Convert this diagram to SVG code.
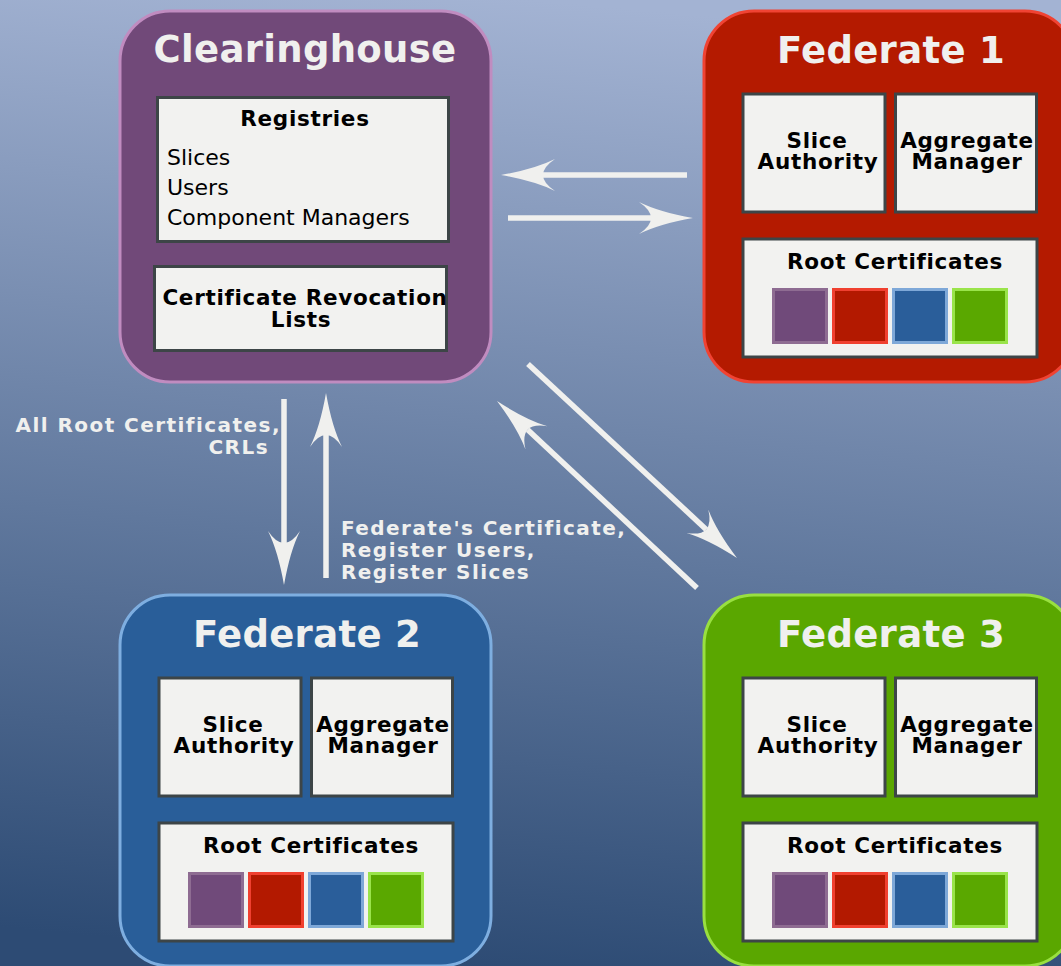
<svg xmlns="http://www.w3.org/2000/svg" width="1061" height="966" viewBox="0 0 1061 966">
  <defs>
    <linearGradient id="bg" x1="0.5" y1="0" x2="0.4" y2="1">
      <stop offset="0" stop-color="#a3b3d3"/>
      <stop offset="1" stop-color="#2d4b74"/>
    </linearGradient>
    <marker id="ah" markerUnits="userSpaceOnUse" markerWidth="56" markerHeight="34" refX="12" refY="16" orient="auto" overflow="visible">
      <path d="M0,0 Q20,10 54,16 Q20,22 0,32 Q12,24 12,16 Q12,8 0,0 Z" fill="#f0f0ee"/>
    </marker>
    <style>
      .title { font-family: "DejaVu Sans", sans-serif; font-weight: bold; font-size: 37px; fill: #f0f0ee; text-anchor: middle; letter-spacing: 0.3px; }
      .inner { fill: #f2f2f0; stroke: #3d4547; stroke-width: 3; }
      .bt { font-family: "DejaVu Sans", sans-serif; font-weight: bold; font-size: 21.5px; fill: #000; text-anchor: middle; letter-spacing: 0.7px; }
      .rt { font-family: "DejaVu Sans", sans-serif; font-size: 22px; fill: #000; }
      .lbl { font-family: "DejaVu Sans", sans-serif; font-weight: bold; font-size: 20px; fill: #f0f0ee; letter-spacing: 1.45px; }
      .conn { stroke: #f0f0ee; stroke-width: 5.5; fill: none; marker-end: url(#ah); }
      .sqP { fill: #704a7a; stroke: #8e6c92; stroke-width: 3; }
      .sqR { fill: #b31900; stroke: #f0402f; stroke-width: 3; }
      .sqB { fill: #2a5e9a; stroke: #7ea8d8; stroke-width: 3; }
      .sqG { fill: #5aa800; stroke: #9ae44a; stroke-width: 3; }
    </style>
  </defs>

  <rect x="0" y="0" width="1061" height="966" fill="url(#bg)"/>

  <g id="clearinghouse">
    <rect x="120" y="11" width="371" height="371" rx="50" fill="#714979" stroke="#c08cc0" stroke-width="3"/>
    <text class="title" x="305" y="62">Clearinghouse</text>
    <rect class="inner" x="157.5" y="97.5" width="291" height="144"/>
    <text class="bt" x="305" y="126">Registries</text>
    <text class="rt" x="167" y="165">Slices</text>
    <text class="rt" x="167" y="195">Users</text>
    <text class="rt" x="167" y="225">Component Managers</text>
    <rect class="inner" x="154.5" y="266.5" width="292" height="84"/>
    <text class="bt" x="305" y="305">Certificate Revocation</text>
    <text class="bt" x="301" y="327">Lists</text>
  </g>

  <g id="federate1">
    <rect x="704" y="11" width="371" height="371" rx="50" fill="#b41a00" stroke="#f04333" stroke-width="3"/>
    <text class="title" x="891" y="63">Federate 1</text>
    <rect class="inner" x="743" y="94" width="142" height="118"/>
    <text class="bt" x="817" y="148">Slice</text>
    <text class="bt" x="818" y="169">Authority</text>
    <rect class="inner" x="895.5" y="94" width="141" height="118"/>
    <text class="bt" x="967" y="148">Aggregate</text>
    <text class="bt" x="967" y="169">Manager</text>
    <rect class="inner" x="743" y="239" width="294" height="118"/>
    <text class="bt" x="895" y="269">Root Certificates</text>
    <rect class="sqP" x="773.5" y="289.5" width="53" height="53"/>
    <rect class="sqR" x="833.5" y="289.5" width="53" height="53"/>
    <rect class="sqB" x="893.5" y="289.5" width="53" height="53"/>
    <rect class="sqG" x="953.5" y="289.5" width="53" height="53"/>
  </g>

  <g id="federate2">
    <rect x="120" y="595" width="371" height="371" rx="50" fill="#295e99" stroke="#7eaee0" stroke-width="3"/>
    <text class="title" x="307" y="647">Federate 2</text>
    <rect class="inner" x="159" y="678" width="142" height="118"/>
    <text class="bt" x="233" y="732">Slice</text>
    <text class="bt" x="234" y="753">Authority</text>
    <rect class="inner" x="311.5" y="678" width="141" height="118"/>
    <text class="bt" x="383" y="732">Aggregate</text>
    <text class="bt" x="383" y="753">Manager</text>
    <rect class="inner" x="159" y="823" width="294" height="118"/>
    <text class="bt" x="311" y="853">Root Certificates</text>
    <rect class="sqP" x="189.5" y="873.5" width="53" height="53"/>
    <rect class="sqR" x="249.5" y="873.5" width="53" height="53"/>
    <rect class="sqB" x="309.5" y="873.5" width="53" height="53"/>
    <rect class="sqG" x="369.5" y="873.5" width="53" height="53"/>
  </g>

  <g id="federate3">
    <rect x="704" y="595" width="371" height="371" rx="50" fill="#5aa700" stroke="#99e040" stroke-width="3"/>
    <text class="title" x="891" y="647">Federate 3</text>
    <rect class="inner" x="743" y="678" width="142" height="118"/>
    <text class="bt" x="817" y="732">Slice</text>
    <text class="bt" x="818" y="753">Authority</text>
    <rect class="inner" x="895.5" y="678" width="141" height="118"/>
    <text class="bt" x="967" y="732">Aggregate</text>
    <text class="bt" x="967" y="753">Manager</text>
    <rect class="inner" x="743" y="823" width="294" height="118"/>
    <text class="bt" x="895" y="853">Root Certificates</text>
    <rect class="sqP" x="773.5" y="873.5" width="53" height="53"/>
    <rect class="sqR" x="833.5" y="873.5" width="53" height="53"/>
    <rect class="sqB" x="893.5" y="873.5" width="53" height="53"/>
    <rect class="sqG" x="953.5" y="873.5" width="53" height="53"/>
  </g>

  <g id="connectors">
    <line class="conn" x1="687" y1="175" x2="543" y2="175"/>
    <line class="conn" x1="508" y1="218" x2="651" y2="218"/>
    <line class="conn" x1="284" y1="399" x2="284" y2="543"/>
    <line class="conn" x1="326" y1="578" x2="326" y2="435"/>
    <line class="conn" x1="528" y1="364" x2="706.2" y2="529.4"/>
    <line class="conn" x1="697" y1="588" x2="527.7" y2="429.7"/>
  </g>

  <g id="labels">
    <text class="lbl" x="281" y="432" text-anchor="end">All Root Certificates,</text>
    <text class="lbl" x="269" y="454" text-anchor="end">CRLs</text>
    <text class="lbl" x="341" y="535">Federate's Certificate,</text>
    <text class="lbl" x="341" y="557">Register Users,</text>
    <text class="lbl" x="341" y="579">Register Slices</text>
  </g>
</svg>
